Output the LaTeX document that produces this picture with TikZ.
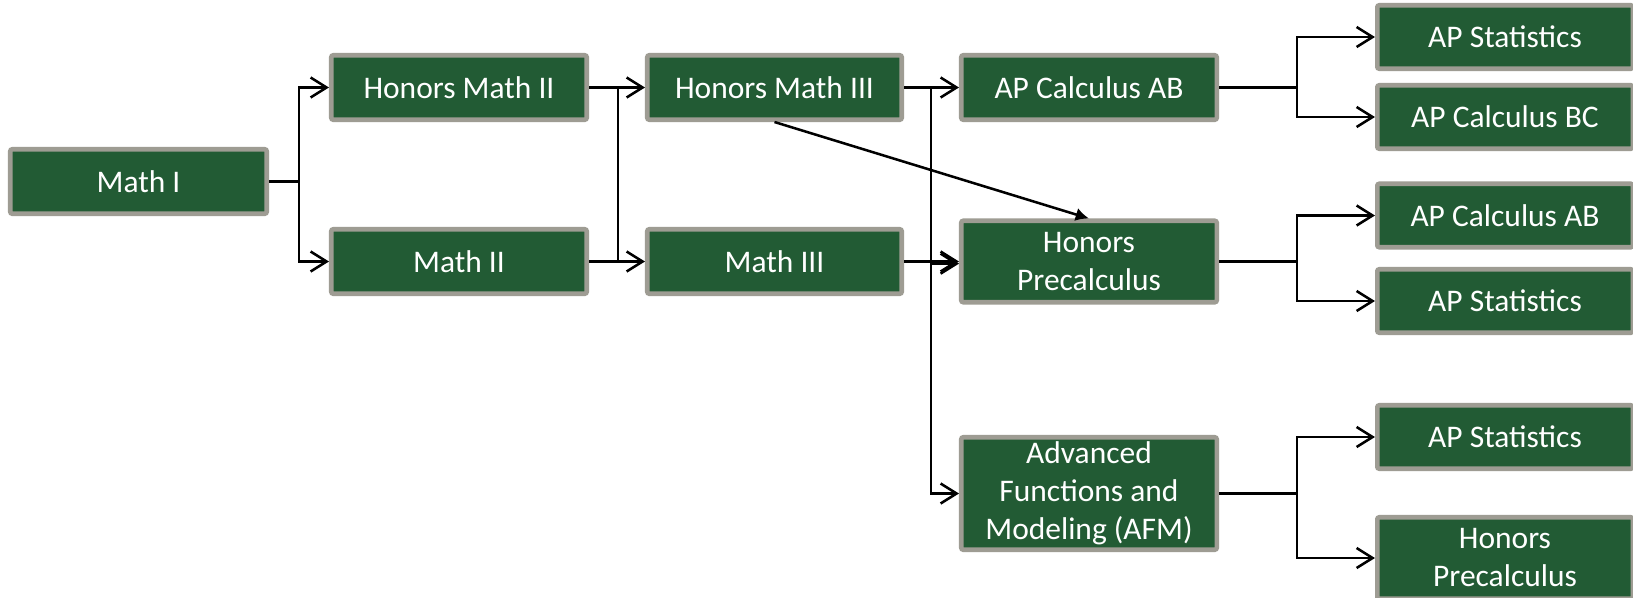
\documentclass[tikz,border=0pt]{standalone}
\usepackage{fontspec}
\setmainfont{Carlito}
\usetikzlibrary{arrows.meta}
\definecolor{boxgreen}{RGB}{34,91,52}
\definecolor{boxgray}{RGB}{158,156,147}
\begin{document}
\begin{tikzpicture}[x=0.75pt,y=-0.75pt,
  box/.style 2 args={draw=boxgray, fill=boxgreen, line width=3.4pt, rounded corners=1.5pt,
    minimum width=(#1-4.5)*0.75pt, minimum height=(#2-4.5)*0.75pt, inner sep=0pt,
    text=white, font=\fontsize{23.6pt}{28.5pt}\selectfont, align=center},
  conn/.style={line width=1.9pt, line join=miter},
  arr/.style={conn, -{Straight Barb[length=12pt,width=15pt]}},
  diag/.style={conn, -{Latex[length=10pt,width=10pt]}}]
\fill[white] (0,0) rectangle (1633,597);
\useasboundingbox (0,0) rectangle (1633,597);
\node[box={261}{69}] (m1) at (138.5,181.5) {Math I};
\node[box={260}{69}] (hm2) at (459,87.5) {Honors Math II};
\node[box={260}{69}] (m2) at (459,261.5) {Math II};
\node[box={259}{69}] (hm3) at (774.5,87.5) {Honors Math III};
\node[box={259}{69}] (m3) at (774.5,261.5) {Math III};
\node[box={260}{69}] (ab) at (1089,87.5) {AP Calculus AB};
\node[box={260}{86}] (hp) at (1089,261.5) {Honors\\Precalculus};
\node[box={260}{117}] (afm) at (1089,493.5) {Advanced\\Functions and\\Modeling (AFM)};
\node[box={260}{68}] (st1) at (1505,37) {AP Statistics};
\node[box={260}{68}] (bc) at (1505,117) {AP Calculus BC};
\node[box={260}{68}] (ab2) at (1505,215.5) {AP Calculus AB};
\node[box={260}{68}] (st2) at (1505,301) {AP Statistics};
\node[box={260}{68}] (st3) at (1505,437) {AP Statistics};
\node[box={260}{86}] (hp2) at (1505,558) {Honors\\Precalculus};
% column 1 -> 2
\draw[arr] (m1.east) -- ++(30,0) |- (hm2.west);
\draw[arr] (m1.east) -- ++(30,0) |- (m2.west);
% column 2 -> 3
\draw[arr] (hm2.east) -- ++(29,0) |- (m3.west);
\draw[arr] (m2.east) -- ++(29,0) |- (hm3.west);
% column 3 -> 4
\draw[arr] (hm3.east) -- (ab.west);
\draw[arr] (hm3.east) -- ++(27,0) |- (afm.west);
\draw[arr] (hm3.east) -- ++(27,0) |- ([yshift=-1.6pt]hp.west);
\draw[arr] (m3.east) -- (hp.west);
\draw[diag] (hm3.south) -- (hp.north);
% column 4 -> 5
\draw[arr] (ab.east) -- ++(78,0) |- (st1.west);
\draw[arr] (ab.east) -- ++(78,0) |- (bc.west);
\draw[arr] (hp.east) -- ++(78,0) |- (ab2.west);
\draw[arr] (hp.east) -- ++(78,0) |- (st2.west);
\draw[arr] (afm.east) -- ++(78,0) |- (st3.west);
\draw[arr] (afm.east) -- ++(78,0) |- (hp2.west);
\end{tikzpicture}
\end{document}
